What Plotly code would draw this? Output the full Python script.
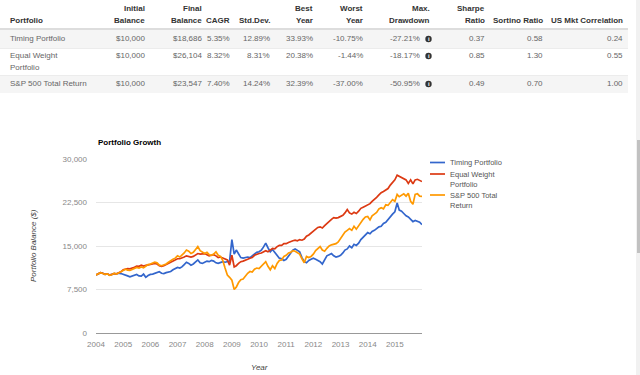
import plotly.graph_objects as go
import pandas as pd

# ---------------- data ----------------
series_names = ["Timing Portfolio", "Equal Weight Portfolio", "S&P 500 Total Return"]
legend_lines = [["Timing Portfolio"], ["Equal Weight", "Portfolio"], ["S&P 500 Total", "Return"]]
series_colors = ["#3366cc", "#dc3912", "#ff9900"]

# monthly balances Jan 2004 .. Jan 2016 (145 points)
months = pd.date_range("2004-01-01", "2016-01-01", freq="MS")

timing = [
    10000, 10200, 10400, 10300, 10100, 10200, 10000, 10100, 10250, 10200, 10300, 10250,
    10150, 10050, 9850, 9700, 9850, 10050, 10100, 9850, 9800, 10150, 9600, 9900,
    10100, 10150, 10250, 10400, 10550, 10300, 10250, 10400, 10550, 10600, 10900, 11100,
    11300, 11200, 11400, 11800, 12200, 12000, 11700, 11900, 12300, 12600, 12100, 12000,
    12200, 12400, 12300, 12500, 12400, 12100, 12000, 12200, 12300, 12200, 12300, 12400,
    16100, 13600, 14300, 13600, 13000, 12900, 13000, 13100, 13000, 13300, 13600, 13900,
    14000, 14300, 14800, 15500, 14700, 14000, 14400, 13900, 13300, 12900, 12800, 12500,
    12700, 13200, 13600, 14300, 14500, 14200, 14000, 13000, 12300, 12100, 12500, 12700,
    12900, 12700, 12500, 12300, 11900, 12600, 13300, 13500, 13700, 13300, 13100, 13200,
    13400, 13800, 14300, 14500, 15000, 14700, 15300, 15100, 15500, 16100, 16500, 16900,
    17300, 17100, 17500, 17700, 18000, 18300, 18400, 18900, 19100, 19600, 20000, 20500,
    20900, 22400, 21200, 21000, 20600, 20200, 20000, 19500, 19200, 19400, 19300, 19100,
    18686,
]
equal_weight = [
    10000, 10200, 10400, 10300, 10100, 10200, 10000, 10100, 10250, 10200, 10400, 10550,
    10900, 11000, 11100, 11050, 11150, 11350, 11550, 11500, 11700, 11550, 11650, 11700,
    11750, 11900, 12000, 11900, 11600, 11500, 11600, 11800, 12000, 12300, 12500, 12700,
    12800, 12800, 12900, 13100, 13300, 13200, 13100, 13200, 13500, 13700, 13600, 13700,
    13700, 13500, 13300, 13400, 13500, 13300, 13000, 13100, 12900, 12700, 12600, 11700,
    13400, 11400, 11600, 12000, 12300, 12400, 12500, 12700, 12900, 13000, 13400, 13600,
    13700, 13800, 14000, 14200, 14000, 14300, 14600, 14500, 14900, 15100, 15100, 15400,
    15400, 15600, 15800, 15900, 16000, 15900, 16100, 16000, 16200, 16700, 16900, 17200,
    17500, 17800, 18200, 18300, 18100, 18500, 18900, 19200, 19600, 19900, 19800, 19900,
    20100, 20300, 20700, 21300, 20700, 20500, 20800, 20600, 21000, 21500, 21700, 21900,
    22000, 22300, 22700, 23000, 23400, 23800, 24200, 24400, 24600, 24900, 25500, 25900,
    26400, 27200, 27000, 26900, 26600, 26400, 25800, 26400, 25700, 26400, 26500, 26300,
    26104,
]
sp500 = [
    10000, 10150, 10400, 10250, 10100, 10200, 9950, 10050, 10300, 10150, 10400, 10550,
    10900, 11000, 10850, 10800, 10950, 11100, 11300, 11200, 11400, 11250, 11600, 11800,
    11900, 12000, 12200, 12100, 11700, 11600, 11700, 11900, 12200, 12500, 12700, 12900,
    13300, 13100, 13400, 13800, 14300, 14100, 13700, 13900, 14400, 14900, 14200, 13900,
    13700, 13900, 13500, 13400, 13600, 14000, 13400, 13200, 12500, 11200, 10000, 9600,
    9100, 7500, 7900, 8700, 9200, 9300, 9900, 10300, 10600, 10500, 11000, 11200,
    11100, 11500, 12000, 12300, 11500, 10900, 11600, 11100, 12000, 12500, 12600, 13200,
    13400, 13800, 13900, 14200, 14100, 13900, 13600, 12800, 12100, 13200, 13000, 13200,
    13600, 14200, 14600, 14900, 14300, 14100, 14600, 15000, 15200, 15300, 15400, 15700,
    16300, 16800, 17400, 17700, 18000, 17700, 18400, 17900, 18500, 19200, 19600, 20000,
    20100, 19500, 20200, 20500, 20800, 21400, 21600, 21400, 22100, 22000, 22600, 23000,
    22700, 23900, 23500, 23700, 24000, 23600, 24100, 22700, 22200, 23900, 24000, 23600,
    23547,
]
series_values = [timing, equal_weight, sp500]

year_ticks = [str(y) for y in range(2004, 2016)]
y_ticks = [0, 7500, 15000, 22500, 30000]

# table
table_headers = ["Portfolio", "Initial<br>Balance", "Final<br>Balance", "CAGR", "Std.Dev.",
                 "Best<br>Year", "Worst<br>Year", "Max.<br>Drawdown", "Sharpe<br>Ratio",
                 "Sortino Ratio", "US Mkt Correlation"]
table_portfolios = ["Timing Portfolio", "Equal Weight<br>Portfolio", "S&P 500 Total Return"]
initial_balance = ["$10,000", "$10,000", "$10,000"]
final_balance = ["$18,686", "$26,104", "$23,547"]
cagr = ["5.35%", "8.32%", "7.40%"]
std_dev = ["12.89%", "8.31%", "14.24%"]
best_year = ["33.93%", "20.38%", "32.39%"]
worst_year = ["-10.75%", "-1.44%", "-37.00%"]
max_drawdown = ["-27.21%", "-18.17%", "-50.95%"]
sharpe = ["0.37", "0.85", "0.49"]
sortino = ["0.58", "1.30", "0.70"]
us_corr = ["0.24", "0.55", "1.00"]

# ---------------- layout helpers ----------------
W, H = 640, 375
L, R, T, B = 96, 422, 159, 333
FONT = "Arial, 'Liberation Sans', sans-serif"


def px(x):
    return (x - L) / (R - L)


def py(y):
    return (B - y) / (B - T)


fig = go.Figure()
for name, vals, col in zip(series_names, series_values, series_colors):
    fig.add_trace(go.Scatter(x=months, y=vals, mode="lines", name=name,
                             line=dict(color=col, width=1.7), showlegend=False,
                             hoverinfo="skip"))

annotations = []
shapes = []


def text(x, y, s, size=8, color="#666", anchor="left", bold=False):
    if bold:
        s = "<b>" + s + "</b>"
    annotations.append(dict(x=px(x), y=py(y), xref="paper", yref="paper", text=s,
                            showarrow=False, xanchor=anchor, yanchor="middle",
                            font=dict(family=FONT, size=size, color=color)))


def rect(x0, y0, x1, y1, color):
    shapes.append(dict(type="rect", xref="paper", yref="paper", x0=px(x0), x1=px(x1),
                       y0=py(y1), y1=py(y0), fillcolor=color, line=dict(width=0),
                       layer="below"))


# table backgrounds / borders
rect(0, 28, 628, 30, "#dddddd")
rect(0, 30, 628, 48, "#f5f5f5")
rect(0, 48, 628, 49, "#ececec")
rect(0, 75, 628, 76, "#ececec")
rect(0, 76, 628, 93, "#f5f5f5")

# header
col_right = [None, 147, 204, 232, 272, 315, 365, 432, 487, 545, 625]
for i, h in enumerate(table_headers):
    lines = h.split("<br>")
    ys = [20] if len(lines) == 1 else [8, 20]
    for ln, yy in zip(lines, ys):
        if i == 0:
            text(8, yy, ln, color="#333", anchor="left", bold=True)
        else:
            text(col_right[i], yy, ln, color="#333", anchor="right", bold=True)

row_y = [39, 56, 84]
columns = [initial_balance, final_balance, cagr, std_dev, best_year, worst_year,
           max_drawdown, sharpe, sortino, us_corr]
for r in range(3):
    lines = table_portfolios[r].split("<br>")
    for j, ln in enumerate(lines):
        text(8, row_y[r] + 11 * j, ln)
    for c, colvals in enumerate(columns):
        xr = col_right[c + 1]
        if colvals is max_drawdown:
            xr = 422
            cx, cy, rr = 428.5, row_y[r], 3.2
            shapes.append(dict(type="circle", xref="paper", yref="paper",
                               x0=px(cx - rr), x1=px(cx + rr), y0=py(cy + rr), y1=py(cy - rr),
                               fillcolor="#333", line=dict(width=0)))
            annotations.append(dict(x=px(cx), y=py(cy), xref="paper", yref="paper",
                                    text="<b>i</b>", showarrow=False, xanchor="center",
                                    yanchor="middle",
                                    font=dict(family=FONT, size=6, color="white")))
        text(xr, row_y[r], colvals[r], anchor="right")

# chart title and axis titles
text(96, 142, "Portfolio Growth", size=8, color="#000", anchor="left", bold=True)
annotations.append(dict(x=px(33), y=py(246), xref="paper", yref="paper",
                        text="<i>Portfolio Balance ($)</i>", showarrow=False, textangle=-90,
                        xanchor="center", yanchor="middle",
                        font=dict(family=FONT, size=8, color="#444")))
annotations.append(dict(x=px(259), y=py(367), xref="paper", yref="paper",
                        text="<i>Year</i>", showarrow=False, xanchor="center", yanchor="middle",
                        font=dict(family=FONT, size=8, color="#444")))

# legend (manual, to match the compact Google-style spacing)
leg_y = [162.5, 174, 195]
for lines, col, yy in zip(legend_lines, series_colors, leg_y):
    shapes.append(dict(type="line", xref="paper", yref="paper", x0=px(430), x1=px(445),
                       y0=py(yy), y1=py(yy), line=dict(color=col, width=1.7)))
    for j, ln in enumerate(lines):
        text(448, yy + 10 * j, ln, size=7.5, color="#555")

# scrollbar
rect(636, 0, 640, 375, "#f1f1f1")
rect(637, 140, 640, 253, "#c1c1c1")

fig.update_layout(
    width=W, height=H, autosize=False,
    margin=dict(l=L, r=W - R, t=T, b=H - B, pad=0),
    paper_bgcolor="white", plot_bgcolor="white",
    annotations=annotations, shapes=shapes,
    showlegend=False,
    xaxis=dict(type="date", range=["2004-01-01", "2016-01-01"],
               tickvals=[f"{y}-01-01" for y in year_ticks], ticktext=year_ticks,
               showgrid=False, zeroline=False, showline=True, linecolor="#999",
               linewidth=1, ticks="", ticklabelstandoff=3,
               tickfont=dict(family=FONT, size=8, color="#888")),
    yaxis=dict(range=[0, 30000], tickvals=y_ticks, tickformat=",",
               showgrid=True, gridcolor="#e6e6e6", gridwidth=1, zeroline=False,
               ticks="", ticklabelstandoff=8,
               tickfont=dict(family=FONT, size=8, color="#888")),
)

fig.write_html("out.html", config={"displayModeBar": False},
               post_script="document.body.style.margin='0';document.body.style.overflow='hidden';")
